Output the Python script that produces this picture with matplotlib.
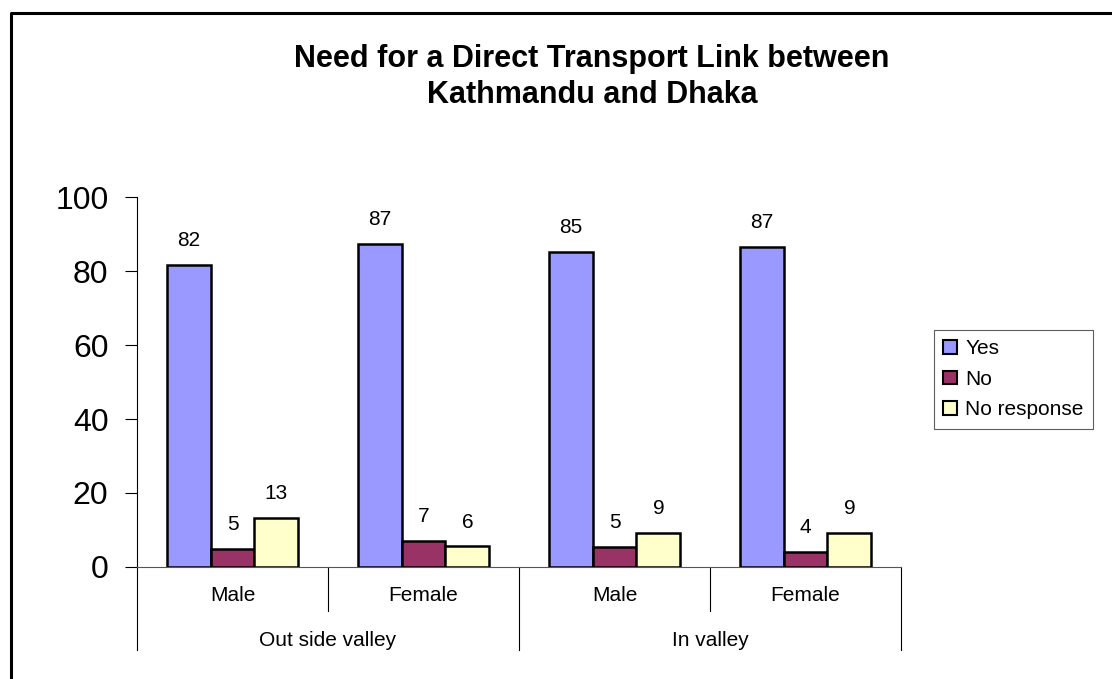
import numpy as np
import matplotlib.pyplot as plt
from matplotlib.lines import Line2D
import matplotlib.transforms as mtransforms

plt.rcParams['font.family'] = ['Liberation Sans', 'DejaVu Sans']

# data
categories = ['Male', 'Female', 'Male', 'Female']
groups = ['Out side valley', 'In valley']
series = ['Yes', 'No', 'No response']
yes_vals = [81.6, 87.3, 85.2, 86.6]
no_vals = [4.9, 7.1, 5.4, 4.1]
noresp_vals = [13.2, 5.6, 9.3, 9.3]
colors = ['#9999FF', '#993366', '#FFFFCC']

fig = plt.figure(figsize=(11.12, 6.79), dpi=100)
ax = fig.add_axes([137/1112, 1-567/679, (901-137)/1112, (567-197)/679])

x = np.arange(len(categories))
w = 0.23
for i, (vals, lab) in enumerate(zip([yes_vals, no_vals, noresp_vals], series)):
    bars = ax.bar(x + (i-1)*w, vals, w, color=colors[i], edgecolor='black',
                  linewidth=1.8, label=lab, zorder=3)
    for b, v in zip(bars, vals):
        ax.annotate('%.0f' % v, (b.get_x() + b.get_width()/2, v),
                    xytext=(0, 13.5), textcoords='offset points',
                    ha='center', va='baseline', fontsize=15)

ax.set_xlim(-0.5, 3.5)
ax.set_ylim(0, 100)
ax.set_yticks([0, 20, 40, 60, 80, 100])
ax.tick_params(axis='y', labelsize=23, length=8.6, width=0.8, pad=12, direction='out')
ax.set_xticks([])
for s in ['top', 'right']:
    ax.spines[s].set_visible(False)
ax.spines['left'].set_linewidth(0.8)
ax.spines['bottom'].set_linewidth(0.8)
ax.spines['bottom'].set_color('#555555')

# two-level category axis
trans = mtransforms.blended_transform_factory(ax.transData, ax.transAxes)
for xb in [0.5, 2.5]:
    ax.plot([xb, xb], [0, -0.119], transform=trans, color='black', lw=0.8, clip_on=False)
for xb in [-0.5, 1.5, 3.5]:
    ax.plot([xb, xb], [0, -0.224], transform=trans, color='black', lw=0.8, clip_on=False)
for xi, c in zip(x, categories):
    ax.text(xi, -0.076, c, transform=trans, ha='center', va='center', fontsize=15)
for gi, g in enumerate(groups):
    ax.text(0.5 + 2*gi, -0.2, g, transform=trans, ha='center', va='center', fontsize=15)

leg = fig.legend(loc='upper left', bbox_to_anchor=(934/1112, 1-330/679), fontsize=15,
                 frameon=True, fancybox=False, edgecolor='#333333', borderpad=0.45,
                 handlelength=0.65, handleheight=0.65, handletextpad=0.4, labelspacing=0.55,
                 borderaxespad=0)
leg.get_frame().set_linewidth(0.8)
for h in leg.legend_handles:
    h.set_linewidth(1.5)

fig.text(592/1112, 1-77/679, 'Need for a Direct Transport Link between\nKathmandu and Dhaka',
         ha='center', va='center', fontsize=22, fontweight='bold', linespacing=1.3)

# chart area border (left and top visible)
fig.add_artist(Line2D([11/1112, 11/1112, 1.0], [0, 1-13/679, 1-13/679],
                      transform=fig.transFigure, color='black', lw=2.2))

plt.savefig('out.png', dpi=100)
